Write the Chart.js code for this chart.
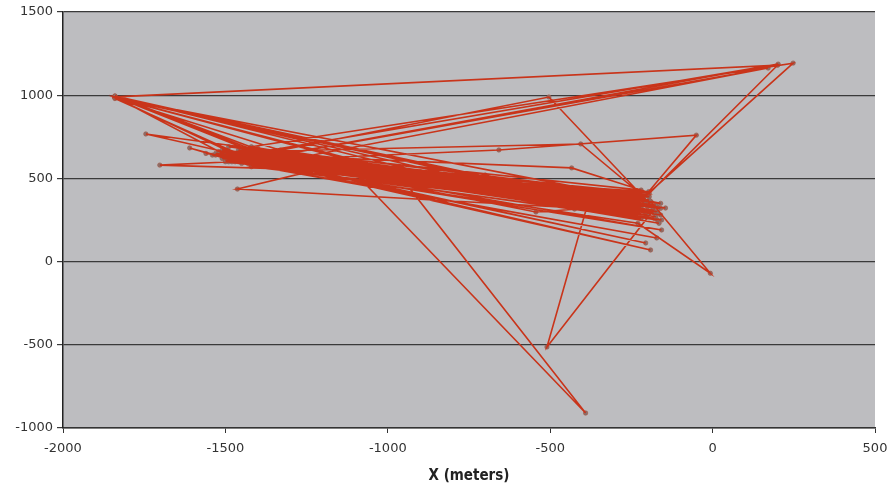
<!DOCTYPE html>
<html>
<head>
<meta charset="utf-8">
<title>X (meters)</title>
<script src="https://cdn.jsdelivr.net/npm/chart.js@4/dist/chart.umd.min.js"></script>
<style>
  html, body { margin: 0; padding: 0; background: #fff; }
  #wrap { width: 891px; height: 489px; }
</style>
</head>
<body>
<div id="wrap"><canvas id="track" width="891" height="489"></canvas></div>
<script>
'use strict';

/* ── Track data (in metres, in path order) ── */
const trackX = [
  -1840, 200, -195, -1480, -1840, -230, -1420, 248, -215, -1450,
  -160, -1400, -1840, -1300, -200, -1745, -1480, -220, -1420, 202,
  -1420, 171, -1420, -180, -1840, -1000, -170, -1530, -1610, -1500,
  -200, -1330, -504, -190, -1460, -157, -1440, -1840, -1200, -240,
  -1350, -406, -230, -1500, -172, -1480, -1702, -700, -210, -1463,
  -1200, -400, -190, -1250, -658, -50, -197, -1420, -220, -1380,
  -190, -7, -230, -1450, -1840, -800, -250, -1300, -1130, -391,
  -965, -200, -1400, -381, -510, -182, -1480, -191, -1360, -206,
  -1420, -157, -1500, -434, -220, -1440, -1840, -600, -1300, -544,
  -240, -1520, -170, -1390, -425, -200, -1470, -230, -1340, -160,
  -1510, -210, -1430, -185, -1560, -250, -1370, -145, -1490, -225,
  -1410, -175, -1540, -205, -1320, -165, -1460, -235, -1390, -195,
  -1480, -210, -1450, -190, -1510, -230, -1420, -170, -1470, -240,
  -1400, -200, -1530, -180, -1440, -215, -1490, -160, -1840, -1100,
  -225, -1460, -195, -1380, -250, -1500, -185, -1430, -205, -1840,
  -900, -210, -1470, -175, -1410, -230
];
const trackY = [
  990, 1180, 410, 655, 985, 300, 690, 1193, 380, 620,
  320, 660, 995, 600, 360, 767, 650, 330, 650, 1187,
  610, 1163, 570, 290, 985, 560, 250, 640, 683, 620,
  330, 670, 989, 340, 600, 190, 630, 980, 590, 380,
  665, 707, 420, 610, 142, 600, 580, 520, 300, 436,
  560, 420, 360, 620, 671, 760, 420, 580, 260, 630,
  360, -70, 230, 590, 990, 520, 350, 640, 590, -910,
  520, 280, 610, 370, -513, 310, 640, 70, 600, 112,
  620, 250, 650, 563, 430, 680, 990, 470, 590, 298,
  340, 660, 300, 640, 316, 400, 630, 350, 610, 280,
  670, 390, 590, 330, 650, 300, 625, 322, 600, 410,
  655, 270, 640, 360, 610, 230, 670, 320, 600, 390,
  640, 350, 670, 300, 620, 380, 650, 330, 600, 300,
  680, 400, 650, 260, 610, 340, 690, 350, 985, 600,
  320, 655, 370, 620, 330, 600, 310, 665, 280, 995,
  540, 390, 630, 340, 600, 360
];

/* ── Axis ticks ─────────────────────────────────────────────────── */
const xTicks = [-2000, -1500, -1000, -500, 0, 500];
const yTicks = [-1000, -500, 0, 500, 1000, 1500];

const points = trackX.map((x, i) => ({ x, y: trackY[i] }));

/* gray plot area */
const plotBg = {
  id: 'plotBg',
  beforeDraw(chart) {
    const { ctx, chartArea: a } = chart;
    ctx.save();
    ctx.fillStyle = '#bdbdc0';
    ctx.fillRect(a.left, a.top, a.right - a.left, a.bottom - a.top);
    ctx.restore();
  }
};

const tickFont = { family: "'DejaVu Sans', sans-serif", size: 13 };
const plain = v => String(v);

new Chart(document.getElementById('track'), {
  type: 'scatter',
  data: {
    datasets: [{
      // path drawn on top
      label: 'Track',
      data: points,
      showLine: true,
      borderColor: '#c9341a',
      borderWidth: 1.6,
      pointRadius: 0
    }, {
      // markers sit under the path, like the original
      label: 'Fixes',
      data: points,
      showLine: false,
      pointRadius: 2.2,
      pointBackgroundColor: '#857370',
      pointBorderColor: '#a9503c',
      pointBorderWidth: 0.6
    }]
  },
  options: {
    responsive: false,
    animation: false,
    layout: { padding: { top: 12, right: 16, left: 0, bottom: 0 } },
    plugins: { legend: { display: false }, tooltip: { enabled: false } },
    scales: {
      x: {
        type: 'linear',
        min: -2000, max: 500,
        afterBuildTicks: s => { s.ticks = xTicks.map(v => ({ value: v })); },
        afterFit: s => { s.height = 61; s.paddingLeft = 0; s.paddingRight = 0; },
        border: { color: '#333', width: 1.5 },
        grid: { drawOnChartArea: false, color: '#333', tickLength: 5 },
        ticks: { color: '#333', font: tickFont, padding: 8, callback: plain },
        title: {
          display: true, text: 'X (meters)', color: '#222',
          font: { family: "'DejaVu Sans Condensed', 'DejaVu Sans', sans-serif", size: 15, weight: 'bold' },
          padding: { top: 4 }
        }
      },
      y: {
        type: 'linear',
        min: -1000, max: 1500,
        afterBuildTicks: s => { s.ticks = yTicks.map(v => ({ value: v })); },
        afterFit: s => { s.width = 63; s.paddingTop = 0; s.paddingBottom = 0; },
        border: { color: '#222', width: 1.5 },
        grid: { color: '#3a3a3a', lineWidth: 1.2, tickLength: 6 },
        ticks: { color: '#333', font: tickFont, padding: 4, callback: plain }
      }
    }
  },
  plugins: [plotBg]
});
</script>
</body>
</html>
